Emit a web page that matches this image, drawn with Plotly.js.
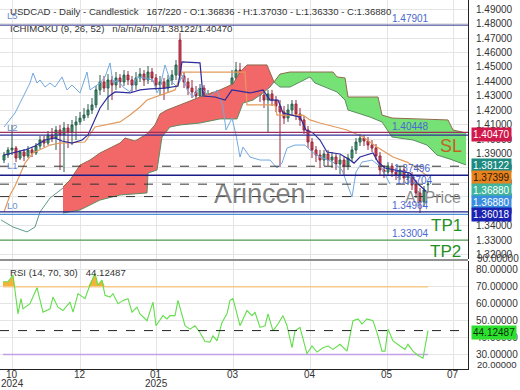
<!DOCTYPE html>
<html><head><meta charset="utf-8">
<script src="https://cdn.plot.ly/plotly-3.0.1.min.js"></script>
<style>html,body{margin:0;padding:0;background:#fff}#chart{width:520px;height:390px}</style>
</head><body><div id="chart"></div>
<script>
// ---------------- DATA ----------------
const candleOpen = [1.3855,1.3890,1.3925,1.3938,1.3869,1.3911,1.3883,1.3925,1.3904,1.3952,
1.3994,1.3973,1.4029,1.4008,1.4063,1.4029,1.4077,1.4049,1.4098,1.4119,
1.4146,1.4167,1.4202,1.4237,1.4341,1.4396,1.4354,1.4410,1.4375,1.4424,
1.4396,1.4444,1.4410,1.4375,1.4424,1.4451,1.4410,1.4465,1.4424,1.4375,
1.4396,1.4354,1.4410,1.4444,1.4687,1.4438,1.4396,1.4354,1.4327,1.4299,
1.4354,1.4271,1.4306,1.4237,1.4271,1.4202,1.4243,1.4327,1.4424,1.4479,
1.4438,1.4368,1.4410,1.4341,1.4375,1.4306,1.4271,1.4313,1.4271,1.4230,
1.4188,1.4146,1.4202,1.4243,1.4174,1.4133,1.4063,1.3980,1.3925,1.3890,
1.3855,1.3897,1.3855,1.3876,1.3827,1.3855,1.3814,1.3869,1.3925,1.3980,
1.4008,1.3987,1.3959,1.3938,1.3883,1.3786,1.3772,1.3814,1.3772,1.3752,
1.3786,1.3731,1.3752,1.3682,1.3627,1.3565,1.36836];
const candleHigh = [1.3911,1.3945,1.4098,1.3952,1.3925,1.3931,1.3952,1.3945,1.3973,1.4022,
1.4022,1.4056,1.4077,1.4091,1.4098,1.4119,1.4105,1.4133,1.4160,1.4188,
1.4216,1.4243,1.4285,1.4368,1.4444,1.4438,1.4451,1.4438,1.4465,1.4451,
1.4479,1.4472,1.4438,1.4465,1.4493,1.4479,1.4507,1.4493,1.4451,1.4438,
1.4424,1.4444,1.4479,1.4548,1.4736,1.4465,1.4424,1.4410,1.4368,1.4382,
1.4375,1.4341,1.4327,1.4299,1.4285,1.4271,1.4354,1.4479,1.4535,1.4528,
1.4479,1.4451,1.4438,1.4410,1.4410,1.4354,1.4341,1.4341,1.4299,1.4271,
1.4230,1.4243,1.4271,1.4271,1.4216,1.4160,1.4091,1.4008,1.3952,1.3925,
1.3925,1.3925,1.3911,1.3897,1.3890,1.3883,1.3897,1.3952,1.4008,1.4036,
1.4029,1.4015,1.3994,1.3966,1.3911,1.3820,1.3841,1.3834,1.3800,1.3814,
1.3807,1.3772,1.3772,1.3717,1.3661,1.3675,1.3703];
const candleLow = [1.3834,1.3869,1.3890,1.3841,1.3855,1.3848,1.3869,1.3876,1.3890,1.3931,
1.3945,1.3959,1.3980,1.3925,1.3786,1.3772,1.3938,1.3959,1.3994,1.4098,
1.4126,1.4146,1.4174,1.4216,1.4306,1.4327,1.4202,1.4271,1.4341,1.4354,
1.4368,1.4375,1.4327,1.4341,1.4396,1.4368,1.4382,1.4396,1.4341,1.4306,
1.4271,1.4327,1.4375,1.4410,1.4410,1.4354,1.4306,1.4285,1.4257,1.4271,
1.4243,1.4230,1.4202,1.4188,1.4167,1.4174,1.4223,1.4306,1.4396,1.4375,
1.4327,1.4327,1.4299,1.4285,1.4257,1.4216,1.4049,1.4230,1.4188,1.3807,
1.4105,1.4119,1.4160,1.4133,1.4091,1.4036,1.3938,1.3869,1.3841,1.3800,
1.3814,1.3814,1.3800,1.3786,1.3758,1.3752,1.3786,1.3841,1.3897,1.3952,
1.3952,1.3925,1.3911,1.3855,1.3745,1.3731,1.3745,1.3738,1.3717,1.3717,
1.3696,1.3682,1.3647,1.3592,1.3488,1.3537,1.3633];
const candleClose = [1.3890,1.3925,1.3938,1.3869,1.3911,1.3883,1.3925,1.3904,1.3952,1.3994,
1.3973,1.4029,1.4008,1.4063,1.4029,1.4077,1.4049,1.4098,1.4119,1.4146,
1.4167,1.4202,1.4237,1.4341,1.4396,1.4354,1.4410,1.4375,1.4424,1.4396,
1.4444,1.4410,1.4375,1.4424,1.4451,1.4410,1.4465,1.4424,1.4375,1.4396,
1.4354,1.4410,1.4444,1.4514,1.4438,1.4396,1.4354,1.4327,1.4299,1.4354,
1.4271,1.4306,1.4237,1.4271,1.4202,1.4243,1.4327,1.4424,1.4479,1.4438,
1.4368,1.4410,1.4341,1.4375,1.4306,1.4271,1.4313,1.4271,1.4230,1.4188,
1.4146,1.4202,1.4243,1.4174,1.4133,1.4063,1.3980,1.3925,1.3890,1.3855,
1.3897,1.3855,1.3876,1.3827,1.3855,1.3814,1.3869,1.3925,1.3980,1.4008,
1.3987,1.3959,1.3938,1.3883,1.3786,1.3772,1.3814,1.3772,1.3752,1.3786,
1.3731,1.3752,1.3682,1.3627,1.3565,1.3647,1.3688];

const tenkanBar = [1,3.75,6.25,8.75,11.25,13.75,15.5,18,20.5,22,23.5,25,27,28.75,32.5,35,37.5,41.25,44.5,45.5,50,50.75,53.75,56.25,58,62.5,65.75,67.5,69.5,70.75,75,76.5,78.25,80,81.75,85,87.5,88.5,90,93.25,94.5,96.25,102.5,104.25,107];
const tenkanVal = [1.3890,1.3911,1.3925,1.3952,1.3994,1.4008,1.3987,1.3973,1.3994,1.4029,1.4119,1.4216,1.4292,1.4327,1.4320,1.4341,1.4348,1.4354,1.4368,1.4535,1.4528,1.4299,1.4292,1.4271,1.4341,1.4320,1.4341,1.4271,1.4271,1.4181,1.4153,1.4063,1.4043,1.3994,1.3911,1.3897,1.3855,1.3834,1.3876,1.3904,1.3841,1.3800,1.3765,1.3696,1.3627];

const kijunBar = [1,2.5,3.75,6.25,8.25,10,12.5,15,21.25,23.75,30,32.5,35,36.75,40,43.75,45.5,61.25,61.75,68.75,69.25,75.75,77.5,80,86.75,90.75,94.25,98.25,101.75,104.25,107];
const kijunVal = [1.3495,1.3613,1.3675,1.3834,1.3904,1.3925,1.3959,1.3973,1.3980,1.4084,1.4119,1.4167,1.4223,1.4271,1.4306,1.4341,1.4465,1.4465,1.4237,1.4237,1.4167,1.4167,1.4133,1.4112,1.4063,1.4015,1.3945,1.3876,1.3841,1.3800,1.3740];

const chikouBar = [1,2.5,3.75,5,6.25,7.5,8.25,9.25,10,11.25,12.5,13.75,15.5,16.75,18,20,21.75,22.5,25,26.25,27.5,28.25,29.5,30.75,32.5,34.25,35.75,38.25,39.25,40,41.25,42.5,44.25,45.75,46.75,48.25,50,52.5,54.25,55.75,56.5,58,59,60,60.75,62.5,65,67.5,69.25,70.5,71.75,73.75,76.25,78,80,83.25,85.5,88,89,90.5,93,95.5,97.5];
const chikouVal = [1.4084,1.4133,1.4181,1.4250,1.4320,1.4389,1.4458,1.4389,1.4410,1.4361,1.4389,1.4361,1.4431,1.4341,1.4375,1.4320,1.4465,1.4341,1.4389,1.4431,1.4528,1.4389,1.4410,1.4361,1.4327,1.4431,1.4424,1.4410,1.4320,1.4361,1.4514,1.4410,1.4361,1.4444,1.4341,1.4292,1.4361,1.4292,1.4341,1.4223,1.4063,1.4146,1.4029,1.3876,1.3945,1.3876,1.3855,1.3855,1.3800,1.3834,1.3938,1.3959,1.3959,1.3911,1.3876,1.3841,1.3786,1.3599,1.3772,1.3841,1.3855,1.3800,1.3688];

const spanLeftBar = [0.25,3.25,6.75,8.75,10,12.5,14.5,15.75];
const spanLeftVal = [1.3440,1.3391,1.3357,1.3391,1.3495,1.3592,1.3634,1.3661];

const redTopBar = [15.75,17.5,20,22.5,25,27.5,30,31.25,33.75,36.75,38.75,40,41.75,45,50,55,58.25,60,61.75,66.75,68,68.5];
const redTopVal = [1.3668,1.3717,1.3820,1.3855,1.3904,1.3938,1.3973,1.4008,1.3987,1.4036,1.4098,1.4174,1.4202,1.4237,1.4292,1.4341,1.4382,1.4465,1.4514,1.4514,1.4431,1.4396];
const redBotBar = [15.75,20,25,30,36.75,37,39.25,40.5,42.5,45,50,55,59.25,60.75,63.25,65.75,67.5,68.5];
const redBotVal = [1.3488,1.3509,1.3578,1.3613,1.3627,1.3765,1.3786,1.4015,1.4084,1.4098,1.4112,1.4140,1.4140,1.4250,1.4271,1.4320,1.4361,1.4396];
const greenTopBar = [68.5,70,72.5,83.25,84.25,86.25,87,94.5,95.5,98,103.25,109.25,112,113.25,116.5];
const greenTopVal = [1.4396,1.4451,1.4465,1.4465,1.4431,1.4424,1.4292,1.4292,1.4167,1.4146,1.4140,1.4133,1.4133,1.4063,1.4043];
const greenBotBar = [68.5,70,72.5,75,77.5,78.75,83.25,84.25,86.25,87,92.5,95.5,98,103.25,106.75,109.25,112.5,116.5];
const greenBotVal = [1.4396,1.4361,1.4361,1.4396,1.4431,1.4389,1.4341,1.4327,1.4271,1.4202,1.4153,1.4119,1.4015,1.3994,1.3959,1.3890,1.3862,1.3821];

const rsiBar = [0.75,2,3.25,3.75,4.5,5.25,5.75,7.5,9.25,10.75,12.5,13.25,14.5,15.75,17.5,18.25,19.5,21.25,22,23.75,24.5,25.5,26.25,27.5,28.25,29.5,30.75,32,33,34.25,35,36.75,38.25,39,40.75,41.75,42.5,43.75,44.5,46.25,47.5,48.75,50,51.25,52.5,53.25,54.25,55.5,56.75,57.5,58.25,60,61.75,63,63.75,65,66.25,67,68.25,69.5,70.75,71.75,73,73.75,75,76.75,78,79.25,80.75,82,83.25,85,86.75,88.25,89.5,90.5,91.75,93.25,94.5,95.5,96.25,97,98.25,100,101.25,102,103.25,104.5,105.75,107];
const rsiVal = [73,73,77,67,54,63,57,60,69.5,55,57,64,58,56,61,55,66,63,68,78,71,74,65,64,66,60,62,63,55,58,54,50,61,47,53,51,53,53,62,47,45,47,43,37.7,37.3,41,38,49,54,62,63,47,56,53,55,46,47,54,44,48,53,47,34,44,46,30.4,35,31.4,34,35,33,36,32,50,51,48,51,50,41,32,32,45,38,35,33,36,32,29.4,27.8,44.12487];
const rsiUpper = 70, rsiLower = 30, rsiLast = 44.12487;

const xTickBars = [3,20,39,58.25,77.5,96.75,113.25];
const xTickText = ['10','12','01','03','04','05','07'];
const yearText = ['2024','2025'];
const yearBars = [3,39];

const levelSL = 1.40470, levelL5 = 1.47901, levelL2 = 1.40448, levelSpanA = 1.38122;
const levelL1 = 1.37496, levelPrice = 1.36880, levelAI = 1.36018, levelTP1 = 1.34964, levelTP2 = 1.33004;
const levelLabelText = ['1.47901','1.40448','1.37496','1.36704','1.34964','1.33004'];
const levelLabelPrice = [1.47901,1.40448,1.37496,1.36704,1.34964,1.33004];
const boxText = ['1.40470','1.38122','1.37399','1.36880','1.36880','1.36018'];

// ---------------- LAYOUT HELPERS ----------------
const PW = 468, PH = 369;
const pxX = v => v / PW;
const pxY = v => (PH - v) / PH;
const FONT = 'Liberation Sans, Arial, sans-serif';

const bars = candleClose.map((_, i) => i + 1);

const traces = [
  {x: redTopBar.concat(redBotBar.slice().reverse()), y: redTopVal.concat(redBotVal.slice().reverse()),
   fill:'toself', fillcolor:'#f26868', line:{width:0}, mode:'lines', hoverinfo:'skip'},
  {x: greenTopBar.concat(greenBotBar.slice().reverse()), y: greenTopVal.concat(greenBotVal.slice().reverse()),
   fill:'toself', fillcolor:'#76e276', line:{width:0}, mode:'lines', hoverinfo:'skip'},
  {x: redTopBar.concat(greenTopBar.slice(1)), y: redTopVal.concat(greenTopVal.slice(1)), mode:'lines', line:{color:'#8e6a4c', width:1}},
  {x: redBotBar.concat(greenBotBar.slice(1)), y: redBotVal.concat(greenBotVal.slice(1)), mode:'lines', line:{color:'#5a8e62', width:1}},
  {x: spanLeftBar, y: spanLeftVal, mode:'lines', line:{color:'#5f9a8c', width:1}},
  {type:'candlestick', x: bars, open: candleOpen, high: candleHigh, low: candleLow, close: candleClose,
   increasing:{line:{color:'#2a5e4c', width:1}, fillcolor:'#35a572'},
   decreasing:{line:{color:'#96263a', width:1}, fillcolor:'#e2445a'},
   whiskerwidth:0, xaxis:'x', yaxis:'y'},
  {x: chikouBar, y: chikouVal, mode:'lines', line:{color:'#72a9e0', width:1}},
  {x: kijunBar, y: kijunVal, mode:'lines', line:{color:'#e39a5c', width:1.2}},
  {x: tenkanBar, y: tenkanVal, mode:'lines', line:{color:'#2b2b9c', width:1.2}},
  // RSI
  {x: rsiBar, y: rsiBar.map(() => rsiUpper), mode:'lines', line:{width:0}, xaxis:'x', yaxis:'y2', hoverinfo:'skip'},
  {x: rsiBar, y: rsiVal.map(v => Math.max(v, rsiUpper)), mode:'lines', line:{width:0}, fill:'tonexty', fillcolor:'#f4b43c', xaxis:'x', yaxis:'y2'},
  {x: [rsiBar[0], rsiBar[rsiBar.length-1]], y: [rsiUpper, rsiUpper], mode:'lines', line:{color:'#f5c98a', width:1.5}, xaxis:'x', yaxis:'y2'},
  {x: [rsiBar[0], rsiBar[rsiBar.length-1]], y: [rsiLower, rsiLower], mode:'lines', line:{color:'#c4a0e6', width:1.5}, xaxis:'x', yaxis:'y2'},
  {x: rsiBar, y: rsiVal, mode:'lines', line:{color:'#62de4a', width:1.1}, xaxis:'x', yaxis:'y2'}
];

const hline = (y, color, width, dash) => ({type:'line', xref:'paper', x0:0, x1:1, yref:'y', y0:y, y1:y,
  line:{color, width, dash: dash || 'solid'}});
const hlineOff = (y, off, color, width) => ({type:'line', xref:'paper', x0:0, x1:1, yref:'y', ysizemode:'pixel', yanchor:y,
  y0:off, y1:off, line:{color, width}});

const shapes = [
  hline(levelL5, '#2c2c86', 1),
  hline(levelSL, '#a0305e', 1.3),
  hlineOff(levelL2, -2.5, '#30309a', 1.2),
  hline(levelSpanA, '#333', 1, 'dash'),
  hline(levelL1, '#1d1d88', 1.5),
  hline(levelPrice, '#333', 1, 'dash'),
  hline(levelAI, '#333', 1, 'dash'),
  hline(levelTP1, '#25258c', 1.2),
  hlineOff(levelTP1, -2.5, '#4d8fd8', 1.2),
  hline(levelTP2, '#2d8a2d', 1),
  {type:'line', xref:'paper', x0:0, x1:1, yref:'y2', y0:rsiLast, y1:rsiLast, line:{color:'#222', width:1, dash:'dash'}},
  {type:'line', xref:'paper', x0:0, x1:1, yref:'paper', y0:pxY(260), y1:pxY(260), line:{color:'#222', width:1}}
];

const ann = [];
const txt = (x, y, text, size, color, anchor, extra) => Object.assign({xref:'paper', yref:'paper', x:pxX(x), y:pxY(y), text,
  showarrow:false, xanchor:anchor || 'left', yanchor:'middle', font:{family:FONT, size, color}}, extra || {});
const NB = '\u00a0\u00a0\u00a0';
ann.push(txt(8, 12, 'USDCAD - Daily - Candlestick' + NB + '167/220 - O:1.36836 - H:1.37030 - L:1.36330 - C:1.36880', 9.6, '#333'));
ann.push(txt(8, 29, 'ICHIMOKU (9, 26, 52)' + NB + 'n/a/n/a/n/a/1.38122/1.40470', 9.6, '#333'));
ann.push(txt(8, 273, 'RSI (14, 70, 30)' + NB + '44.12487', 9.6, '#333'));
// watermark & signals
ann.push(txt(260, 194, 'Arincen', 27, 'rgba(95,95,95,0.8)', 'center'));
ann.push(txt(433, 197, 'AI Price', 16, '#8c8c8c', 'center'));
ann.push(txt(451, 146, 'SL', 18, '#c0641e', 'center'));
ann.push(txt(446, 225, 'TP1', 17, '#1f8f1f', 'center'));
ann.push(txt(445, 251, 'TP2', 17, '#1f8f1f', 'center'));
// level labels (blue)
const labelX = [410,410,412,414,410,410];
levelLabelText.forEach((t, i) => ann.push({xref:'paper', yref:'y', x:pxX(labelX[i]), y:levelLabelPrice[i], text:t, showarrow:false,
  xanchor:'center', yanchor:'bottom', yshift:-1, font:{family:FONT, size:10, color:'#4a68cf'}}));
// left tags
[['L5',15],['L2',127],['L1',165],['L0',205]].forEach(([t,y]) => ann.push(txt(5, y, t, 9.5, '#6a8fd2')));
// axis value boxes
const boxBg = ['#d0184a','#1d8a7f','#e8821e','#40b59c','#3a8ee0','#1b22b2'];
const boxFg = ['#fff','#fff','#2a1800','#fff','#fff','#fff'];
const boxY = [134,165,178,190.5,202.5,214.5];
boxText.forEach((t, i) => ann.push(txt(471, boxY[i], t, 10, boxFg[i], 'left', {bgcolor:boxBg[i], borderpad:1})));
ann.push(txt(471, 332, rsiLast.toFixed(5), 10, '#0d300d', 'left', {bgcolor:'#2ee02e', borderpad:1}));
ann.push(txt(475, 364.5, '20.00000', 9.5, '#333'));
ann.push(txt(475, 258, '90.00000', 10, '#333'));
// month and year labels on the time axis
xTickText.forEach((t, i) => ann.push({xref:'x', yref:'paper', x:xTickBars[i], y:pxY(374.5), text:t, showarrow:false,
  xanchor:'center', yanchor:'middle', font:{family:FONT, size:10, color:'#333'}}));
yearText.forEach((t, i) => ann.push({xref:'x', yref:'paper', x:yearBars[i], y:pxY(384), text:t, showarrow:false,
  xanchor:'center', yanchor:'middle', font:{family:FONT, size:10, color:'#333'}}));

const layout = {
  width:520, height:390, margin:{l:0, r:52, t:0, b:21},
  paper_bgcolor:'#fff', plot_bgcolor:'#fff', showlegend:false,
  font:{family:FONT, size:10, color:'#333'},
  xaxis:{range:[0,117], domain:[0,1], anchor:'y2', tickvals:xTickBars, ticktext:xTickText, showticklabels:false,
    showgrid:true, gridcolor:'#e5e5e5',
    zeroline:false, showline:true, linecolor:'#222', linewidth:1, ticks:'', rangeslider:{visible:false}},
  yaxis:{domain:[110/369,1], range:[1.31693,1.49642], side:'right', anchor:'x', dtick:0.01, tick0:1.3, tickformat:'.5f',
    showgrid:true, gridcolor:'#e5e5e5', zeroline:false, showline:true, linecolor:'#222', linewidth:1,
    ticks:'outside', ticklen:5, tickcolor:'rgba(0,0,0,0)', tickfont:{size:10, color:'#333'}},
  yaxis2:{domain:[0,108/369], range:[21.4,85.3], side:'right', anchor:'x', dtick:10, tick0:0, tickformat:'.5f',
    showgrid:true, gridcolor:'#e5e5e5', zeroline:false, showline:true, linecolor:'#222', linewidth:1,
    ticks:'outside', ticklen:5, tickcolor:'rgba(0,0,0,0)', tickfont:{size:10, color:'#333'}},
  shapes, annotations: ann
};

Plotly.newPlot('chart', traces, layout, {staticPlot:true, displayModeBar:false});
</script></body></html>
